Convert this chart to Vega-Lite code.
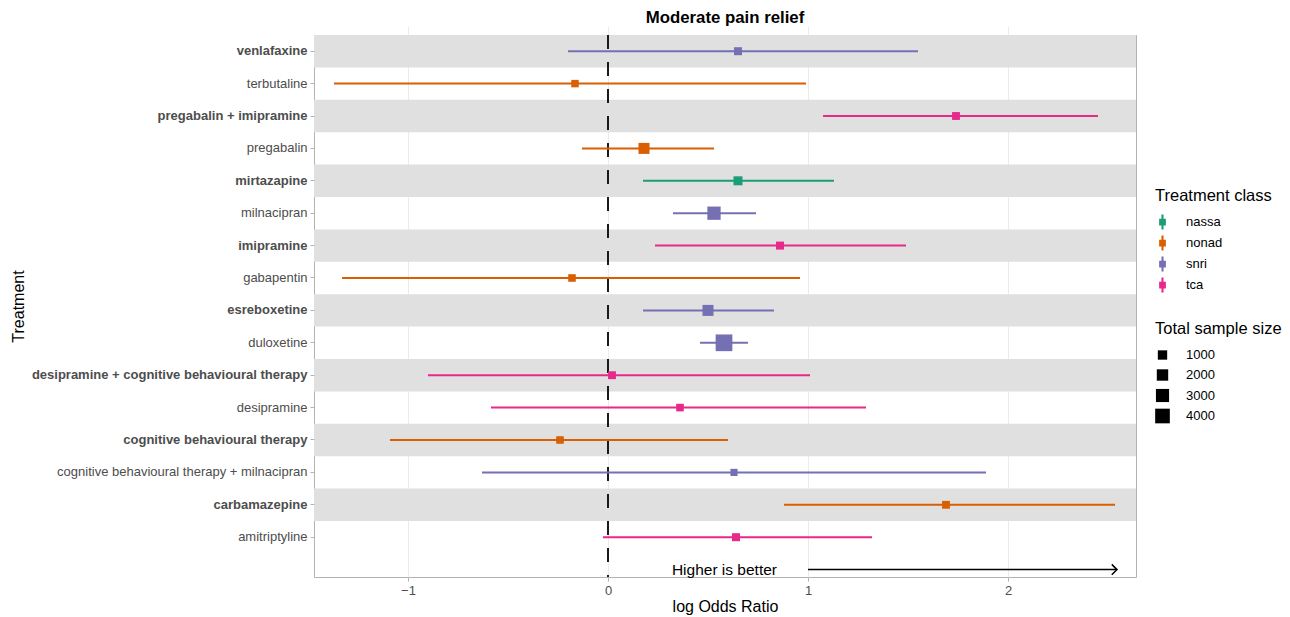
{
  "$schema": "https://vega.github.io/schema/vega-lite/v6.json",
  "autosize": {"type": "none"},
  "width": 822,
  "height": 542,
  "padding": {"left": 314, "top": 35, "right": 154, "bottom": 40},
  "title": {"text": "Moderate pain relief"},
  "data": {"values": [
    {"treatment": "venlafaxine", "class": "snri", "lor": 0.65, "lo": -0.2, "hi": 1.55, "n": 450},
    {"treatment": "terbutaline", "class": "nonad", "lor": -0.165, "lo": -1.37, "hi": 0.99, "n": 260},
    {"treatment": "pregabalin + imipramine", "class": "tca", "lor": 1.74, "lo": 1.075, "hi": 2.45, "n": 400},
    {"treatment": "pregabalin", "class": "nonad", "lor": 0.18, "lo": -0.13, "hi": 0.53, "n": 1800},
    {"treatment": "mirtazapine", "class": "nassa", "lor": 0.65, "lo": 0.175, "hi": 1.13, "n": 850},
    {"treatment": "milnacipran", "class": "snri", "lor": 0.53, "lo": 0.325, "hi": 0.74, "n": 3100},
    {"treatment": "imipramine", "class": "tca", "lor": 0.86, "lo": 0.235, "hi": 1.49, "n": 450},
    {"treatment": "gabapentin", "class": "nonad", "lor": -0.18, "lo": -1.33, "hi": 0.96, "n": 300},
    {"treatment": "esreboxetine", "class": "snri", "lor": 0.5, "lo": 0.175, "hi": 0.83, "n": 1800},
    {"treatment": "duloxetine", "class": "snri", "lor": 0.58, "lo": 0.46, "hi": 0.7, "n": 5500},
    {"treatment": "desipramine + cognitive behavioural therapy", "class": "tca", "lor": 0.02, "lo": -0.9, "hi": 1.01, "n": 400},
    {"treatment": "desipramine", "class": "tca", "lor": 0.36, "lo": -0.585, "hi": 1.29, "n": 300},
    {"treatment": "cognitive behavioural therapy", "class": "nonad", "lor": -0.24, "lo": -1.09, "hi": 0.6, "n": 300},
    {"treatment": "cognitive behavioural therapy + milnacipran", "class": "snri", "lor": 0.63, "lo": -0.63, "hi": 1.89, "n": 150},
    {"treatment": "carbamazepine", "class": "nonad", "lor": 1.69, "lo": 0.88, "hi": 2.535, "n": 400},
    {"treatment": "amitriptyline", "class": "tca", "lor": 0.64, "lo": -0.025, "hi": 1.32, "n": 450}
  ]},
  "layer": [
    {
      "transform": [{"filter": {"field": "treatment", "oneOf": ["venlafaxine", "pregabalin + imipramine", "mirtazapine", "imipramine", "esreboxetine", "desipramine + cognitive behavioural therapy", "cognitive behavioural therapy", "carbamazepine"]}}],
      "mark": {"type": "rect", "color": "#e0e0e0"},
      "encoding": {
        "y": {"field": "treatment", "type": "nominal",
          "scale": {"type": "band", "domain": ["venlafaxine", "terbutaline", "pregabalin + imipramine", "pregabalin", "mirtazapine", "milnacipran", "imipramine", "gabapentin", "esreboxetine", "duloxetine", "desipramine + cognitive behavioural therapy", "desipramine", "cognitive behavioural therapy", "cognitive behavioural therapy + milnacipran", "carbamazepine", "amitriptyline", " "], "paddingInner": 0, "paddingOuter": 0, "range": [0, 550.8]},
          "axis": {"title": "Treatment", "titleX": -296, "titleY": 271, "titleAngle": -90, "titleBaseline": "middle", "titleAlign": "center", "labelLimit": 0,
            "values": ["venlafaxine", "terbutaline", "pregabalin + imipramine", "pregabalin", "mirtazapine", "milnacipran", "imipramine", "gabapentin", "esreboxetine", "duloxetine", "desipramine + cognitive behavioural therapy", "desipramine", "cognitive behavioural therapy", "cognitive behavioural therapy + milnacipran", "carbamazepine", "amitriptyline"],
            "labelFontWeight": {"condition": {"test": "indexof(['venlafaxine', 'pregabalin + imipramine', 'mirtazapine', 'imipramine', 'esreboxetine', 'desipramine + cognitive behavioural therapy', 'cognitive behavioural therapy', 'carbamazepine'], datum.value) >= 0", "value": "bold"}, "value": "normal"}}}
      }
    },
    {
      "mark": {"type": "rule", "color": "#1a1a1a", "strokeWidth": 1, "strokeDash": [14, 13]},
      "encoding": {
        "x": {"datum": 0, "type": "quantitative", "scale": {"domain": [-1.47, 2.64], "nice": false, "zero": false}, "title": "log Odds Ratio"}
      }
    },
    {
      "mark": {"type": "rule", "strokeWidth": 2},
      "encoding": {
        "y": {"field": "treatment", "type": "nominal"},
        "x": {"field": "lo", "type": "quantitative", "scale": {"domain": [-1.47, 2.64], "nice": false, "zero": false}, "title": "log Odds Ratio", "axis": {"values": [-1, 0, 1, 2], "format": "d"}},
        "x2": {"field": "hi"},
        "color": {"field": "class", "type": "nominal",
          "scale": {"domain": ["nassa", "nonad", "snri", "tca"], "range": ["#1b9e77", "#d95f02", "#7570b3", "#e7298a"]},
          "legend": {"title": "Treatment class", "orient": "none", "legendX": 841, "legendY": 153, "symbolType": "M-0.14,-1H0.14V1H-0.14Z M-0.45,-0.45H0.45V0.45H-0.45Z", "symbolSize": 225, "symbolStrokeWidth": 0, "titlePadding": 10}}
      }
    },
    {
      "mark": {"type": "square", "filled": true, "opacity": 1},
      "encoding": {
        "y": {"field": "treatment", "type": "nominal"},
        "x": {"field": "lor", "type": "quantitative", "scale": {"domain": [-1.47, 2.64], "nice": false, "zero": false}, "title": "log Odds Ratio"},
        "color": {"field": "class", "type": "nominal"},
        "size": {"field": "n", "type": "quantitative",
          "scale": {"type": "linear", "zero": false, "domain": [100, 6000], "range": [49, 300]},
          "legend": {"title": "Total sample size", "orient": "none", "legendX": 841, "legendY": 286, "values": [1000, 2000, 3000, 4000], "format": "d", "symbolFillColor": "black", "symbolStrokeWidth": 0, "symbolType": "square", "titlePadding": 11}}
      }
    },
    {
      "data": {"values": [{"treatment": " ", "from": 1, "to": 2.545, "label": "Higher is better"}]},
      "layer": [
        {
          "mark": {"type": "rule", "color": "black", "strokeWidth": 1.5},
          "encoding": {
            "y": {"field": "treatment", "type": "nominal"},
            "x": {"field": "from", "type": "quantitative", "scale": {"domain": [-1.47, 2.64], "nice": false, "zero": false}, "title": "log Odds Ratio"},
            "x2": {"field": "to"}
          }
        },
        {
          "mark": {"type": "point", "shape": "M-1,-1L0,0L-1,1", "filled": false, "color": "black", "strokeWidth": 1.5, "size": 110, "opacity": 1},
          "encoding": {
            "y": {"field": "treatment", "type": "nominal"},
            "x": {"field": "to", "type": "quantitative", "scale": {"domain": [-1.47, 2.64], "nice": false, "zero": false}, "title": "log Odds Ratio"}
          }
        },
        {
          "mark": {"type": "text", "align": "right", "baseline": "middle", "dx": -31, "fontSize": 15.5, "color": "black"},
          "encoding": {
            "y": {"field": "treatment", "type": "nominal"},
            "x": {"field": "from", "type": "quantitative", "scale": {"domain": [-1.47, 2.64], "nice": false, "zero": false}, "title": "log Odds Ratio"},
            "text": {"field": "label"}
          }
        }
      ]
    }
  ],
  "config": {
    "font": "Liberation Sans",
    "view": {"stroke": "#b3b3b3", "strokeWidth": 1},
    "axis": {"domain": false, "tickColor": "#b3b3b3", "tickSize": 4, "labelColor": "#4d4d4d", "labelFontSize": 13, "titleFontSize": 16, "titleFontWeight": "normal", "titleColor": "black", "gridColor": "#ebebeb"},
    "axisX": {"grid": true, "labelPadding": 3, "titlePadding": 1},
    "axisY": {"grid": false, "labelPadding": 3},
    "title": {"fontSize": 16.8, "fontWeight": "bold", "anchor": "middle", "offset": 8, "color": "black"},
    "legend": {"titleFontSize": 16.5, "titleFontWeight": "normal", "titleColor": "black", "labelFontSize": 13, "labelColor": "black", "rowPadding": 6, "titlePadding": 8, "labelOffset": 16}
  }
}
